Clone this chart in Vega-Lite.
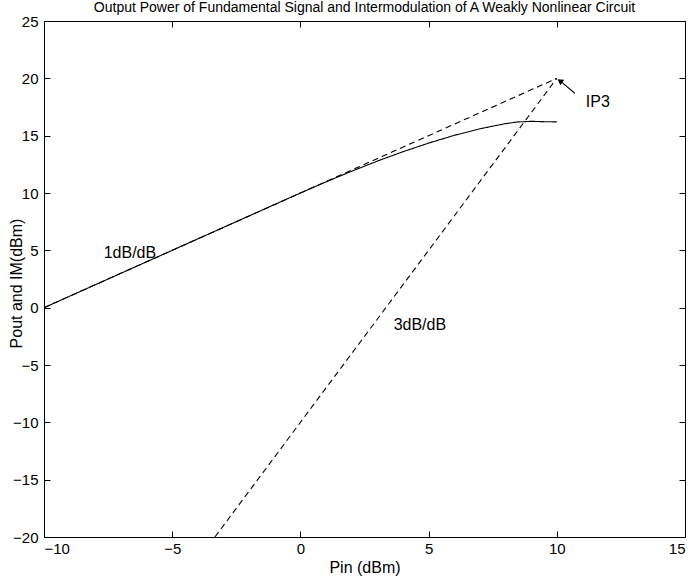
{
  "$schema": "https://vega.github.io/schema/vega-lite/v6.json",
  "width": 641,
  "height": 516,
  "autosize": {"type": "none"},
  "padding": {"left": 44, "top": 21, "right": 14, "bottom": 43},
  "background": "white",
  "config": {
    "font": "Liberation Sans",
    "view": {"stroke": "black", "strokeWidth": 1},
    "axis": {"grid": false, "domain": false, "offset": -6, "tickSize": 6, "tickColor": "black", "tickWidth": 1, "labelColor": "black", "titleColor": "black", "labelFontSize": 15, "titleFontSize": 16, "titleFontWeight": "normal", "labelPadding": 4}
  },
  "title": {"text": "Output Power of Fundamental Signal and Intermodulation of A Weakly Nonlinear Circuit", "fontSize": 14, "fontWeight": "normal", "color": "black", "offset": -1, "anchor": "middle"},
  "datasets": {
    "curves": [
      {"series": "fund", "x": -10, "y": 0},
      {"series": "fund", "x": -8, "y": 2},
      {"series": "fund", "x": -6, "y": 4},
      {"series": "fund", "x": -4, "y": 6},
      {"series": "fund", "x": -2, "y": 8},
      {"series": "fund", "x": 0, "y": 10},
      {"series": "fund", "x": 1, "y": 10.97},
      {"series": "fund", "x": 2, "y": 11.9},
      {"series": "fund", "x": 3, "y": 12.78},
      {"series": "fund", "x": 4, "y": 13.6},
      {"series": "fund", "x": 5, "y": 14.35},
      {"series": "fund", "x": 6, "y": 15.03},
      {"series": "fund", "x": 7, "y": 15.6},
      {"series": "fund", "x": 8, "y": 16.05},
      {"series": "fund", "x": 8.5, "y": 16.2},
      {"series": "fund", "x": 9, "y": 16.25},
      {"series": "fund", "x": 9.5, "y": 16.22},
      {"series": "fund", "x": 10, "y": 16.2},
      {"series": "extrap", "x": -10, "y": 0},
      {"series": "extrap", "x": 10, "y": 20},
      {"series": "im3", "x": -3.333, "y": -20},
      {"series": "im3", "x": 10, "y": 20}
    ],
    "labels": [
      {"label": "1dB/dB", "x": -6.65, "y": 4.75},
      {"label": "3dB/dB", "x": 4.66, "y": -1.5},
      {"label": "IP3", "x": 11.6, "y": 17.9}
    ],
    "arrow": [
      {"x": 10.7, "y": 18.7, "x2": 10.12, "y2": 19.8}
    ],
    "head": [
      {"x": 10.12, "y": 19.78}
    ]
  },
  "resolve": {"axis": {"x": "independent", "y": "independent"}},
  "layer": [
    {
      "data": {"name": "curves"},
      "mark": {"type": "line", "color": "black", "strokeWidth": 1.1},
      "encoding": {
        "x": {"field": "x", "type": "quantitative", "scale": {"domain": [-10, 15], "nice": false, "zero": false},
              "axis": {"orient": "bottom", "values": [-10, -5, 0, 5, 10, 15], "title": "Pin (dBm)", "titleBaseline": "middle", "titleY": 36}},
        "y": {"field": "y", "type": "quantitative", "scale": {"domain": [-20, 25], "nice": false, "zero": false},
              "axis": {"orient": "left", "values": [-20, -15, -10, -5, 0, 5, 10, 15, 20, 25], "labelPadding": 6, "title": "Pout and IM(dBm)", "titleBaseline": "middle", "titleX": -34, "titleY": 262, "titleAngle": -90}},
        "detail": {"field": "series"},
        "strokeDash": {"field": "series", "type": "nominal", "scale": {"domain": ["fund", "extrap", "im3"], "range": [[1, 0], [6, 4], [6, 4]]}, "legend": null}
      }
    },
    {
      "data": {"name": "arrow"},
      "mark": {"type": "rule", "color": "black", "strokeWidth": 1.1},
      "encoding": {
        "x": {"field": "x", "type": "quantitative", "axis": null},
        "y": {"field": "y", "type": "quantitative", "axis": null},
        "x2": {"field": "x2"},
        "y2": {"field": "y2"}
      }
    },
    {
      "data": {"name": "head"},
      "mark": {"type": "point", "shape": "triangle-up", "filled": true, "color": "black", "size": 45, "angle": 305, "opacity": 1},
      "encoding": {
        "x": {"field": "x", "type": "quantitative", "axis": null},
        "y": {"field": "y", "type": "quantitative", "axis": null}
      }
    },
    {
      "data": {"name": "labels"},
      "mark": {"type": "text", "fontSize": 16, "color": "black", "baseline": "middle", "align": "center"},
      "encoding": {
        "x": {"field": "x", "type": "quantitative",
              "axis": {"orient": "top", "values": [-10, -5, 0, 5, 10, 15], "labels": false, "title": null}},
        "y": {"field": "y", "type": "quantitative",
              "axis": {"orient": "right", "values": [-20, -15, -10, -5, 0, 5, 10, 15, 20, 25], "labels": false, "title": null}},
        "text": {"field": "label"}
      }
    }
  ]
}
